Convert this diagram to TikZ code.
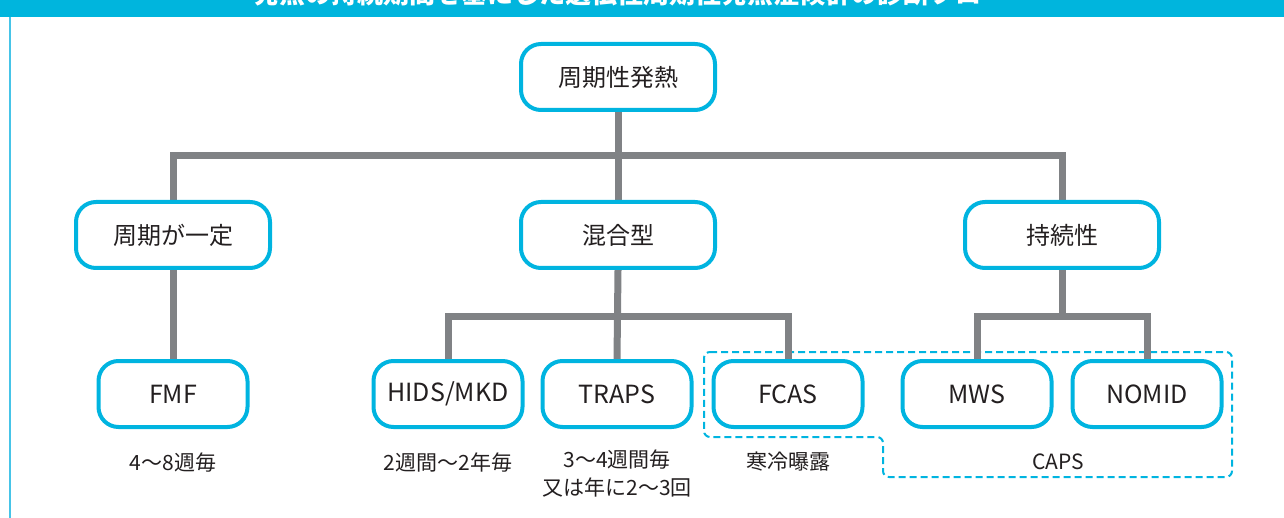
\documentclass[tikz,border=0pt]{standalone}
\usepackage{fontspec}
\setmainfont{Noto Sans CJK JP}
\usepackage{tikz}
\usetikzlibrary{backgrounds}

\definecolor{bandcyan}{RGB}{0,181,221}
\definecolor{boxcyan}{RGB}{0,180,224}
\definecolor{framecyan}{RGB}{70,196,232}
\definecolor{linkgray}{RGB}{128,130,133}
\definecolor{textdark}{RGB}{35,31,32}

\tikzset{
  box/.style={draw=boxcyan, line width=4pt, rounded corners=20pt, fill=white, text=textdark, minimum height=66pt, inner sep=0pt, font=\fontsize{24}{28}\selectfont},
  widebox/.style={box, minimum width=194pt},
  smallbox/.style={box, minimum width=149pt, font=\fontsize{25}{28}\selectfont},
  link/.style={draw=linkgray, line width=7pt},
  note/.style={text=textdark, align=center, inner sep=0pt, font=\fontsize{21}{28}\selectfont},
  capsline/.style={draw=boxcyan, line width=2pt, dash pattern=on 7pt off 4pt, rounded corners=6pt}
}

\begin{document}
\begin{tikzpicture}[x=1pt, y=-1pt]
\useasboundingbox (0,0) rectangle (1284,518);

\fill[bandcyan] (0,0) rectangle (1284,17);
\draw[framecyan, line width=2pt] (10,17) -- (10,518);
\node[anchor=base, text=white, inner sep=0pt, font=\fontsize{26}{30}\selectfont\bfseries] at (630,4) (title) {発熱の持続期間を基にした遺伝性周期性発熱症候群の診断フロー};

\node[widebox] at (618,77) (top) {周期性発熱};
\node[widebox] at (173,235) (fix) {周期が一定};
\node[widebox] at (618,235) (mix) {混合型};
\node[widebox] at (1062,235) (cont) {持続性};

\node[smallbox] at (173,394) (fmf) {FMF};
\node[smallbox] at (448,394) (hids) {HIDS/MKD};
\node[smallbox] at (617,394) (traps) {TRAPS};
\node[smallbox] at (788,394) (fcas) {FCAS};
\node[smallbox] at (977,394) (mws) {MWS};
\node[smallbox] at (1147,394) (nomid) {NOMID};

\node[note] at (173,463) (fmfnote) {4〜8週毎};
\node[note] at (448,463) (hidsnote) {2週間〜2年毎};
\node[note, anchor=north] at (617,450) (trapsnote) {3〜4週間毎\\又は年に2〜3回};
\node[note] at (788,462) (fcasnote) {寒冷曝露};
\node[note] at (1058,462) (capsnote) {CAPS};

\coordinate (bus1) at (618,156);
\coordinate (bus2) at (617,317);
\coordinate (bus3) at (1062,317);

\begin{scope}[on background layer]
\draw[capsline] (704,352) -- (1232,352) -- (1232,477) -- (883,477) -- (883,437) -- (704,437) -- cycle;

\draw[link] (fix.north) |- (bus1) -| (cont.north);
\draw[link] (top.south) -- (mix.north);
\draw[link] (fix.south) -- (fmf.north);
\draw[link] (hids.north) |- (bus2) -| (fcas.north);
\draw[link] (mix.south) -- (traps.north);
\draw[link] (mws.north) |- (bus3) -| (nomid.north);
\draw[link] (cont.south) -- (bus3);
\end{scope}

\end{tikzpicture}
\end{document}
